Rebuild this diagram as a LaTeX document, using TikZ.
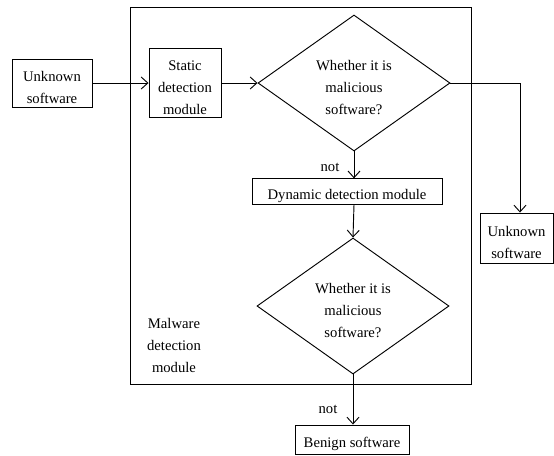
\documentclass[tikz,border=0pt]{standalone}
\usepackage{fontspec}
\setmainfont{Liberation Serif}
\usetikzlibrary{shapes.geometric,arrows.meta}
\newcommand{\lowstrut}{\rule{0pt}{15pt}}
\begin{document}
\begin{tikzpicture}[x=0.75pt,y=-0.75pt,
  every node/.style={font=\fontsize{11}{16.5}\selectfont, align=center},
  box/.style={draw, line width=0.7pt, inner sep=0pt},
  decision/.style={draw, line width=0.7pt, diamond, aspect=1.4, inner sep=0pt,
    minimum width=144pt, minimum height=102pt},
  flow/.style={line width=0.7pt, -{Straight Barb[length=5pt,width=9pt,line width=0.7pt]}},
  frame/.style={draw, line width=0.7pt}]
\useasboundingbox (0,0) rectangle (554,455);
\draw[frame] (130,7) rectangle (471,384);
\node[box, minimum width=60pt, minimum height=36pt] (u1) at (52,83) {\lowstrut Unknown\\software};
\node[box, minimum width=54pt, minimum height=52pt] (st) at (185,83) {\lowstrut Static\\detection\\module};
\node[decision] (d1) at (354,83) {\lowstrut Whether it is\\malicious\\software?};
\node[box, minimum width=142.5pt, minimum height=19pt] (dy) at (347,191.5) {\lowstrut Dynamic detection module};
\node[decision] (d2) at (353,306) {\lowstrut Whether it is\\malicious\\software?};
\node[box, minimum width=85.5pt, minimum height=21.75pt] (bn) at (352,439.5) {\lowstrut Benign software};
\node[box, minimum width=54.75pt, minimum height=37.5pt] (u2) at (516.5,238) {\lowstrut Unknown\\software};
\node (mal) at (174,345) {Malware\\detection\\module};
\node (not1) at (330,167) {not};
\node (not2) at (328,409) {not};
\coordinate (c1) at (520,83);
\draw[flow] (u1) -- (st);
\draw[flow] (st) -- (d1.west);
\draw[flow] (d1.south) -- (d1.south |- dy.north);
\draw[flow] (d1.south |- dy.south) -- (d2.north);
\draw[flow] (d2.south) -- (d2.south |- bn.north);
\draw[flow] (d1.east) -- (c1) -- (c1 |- u2.north);
\end{tikzpicture}
\end{document}
